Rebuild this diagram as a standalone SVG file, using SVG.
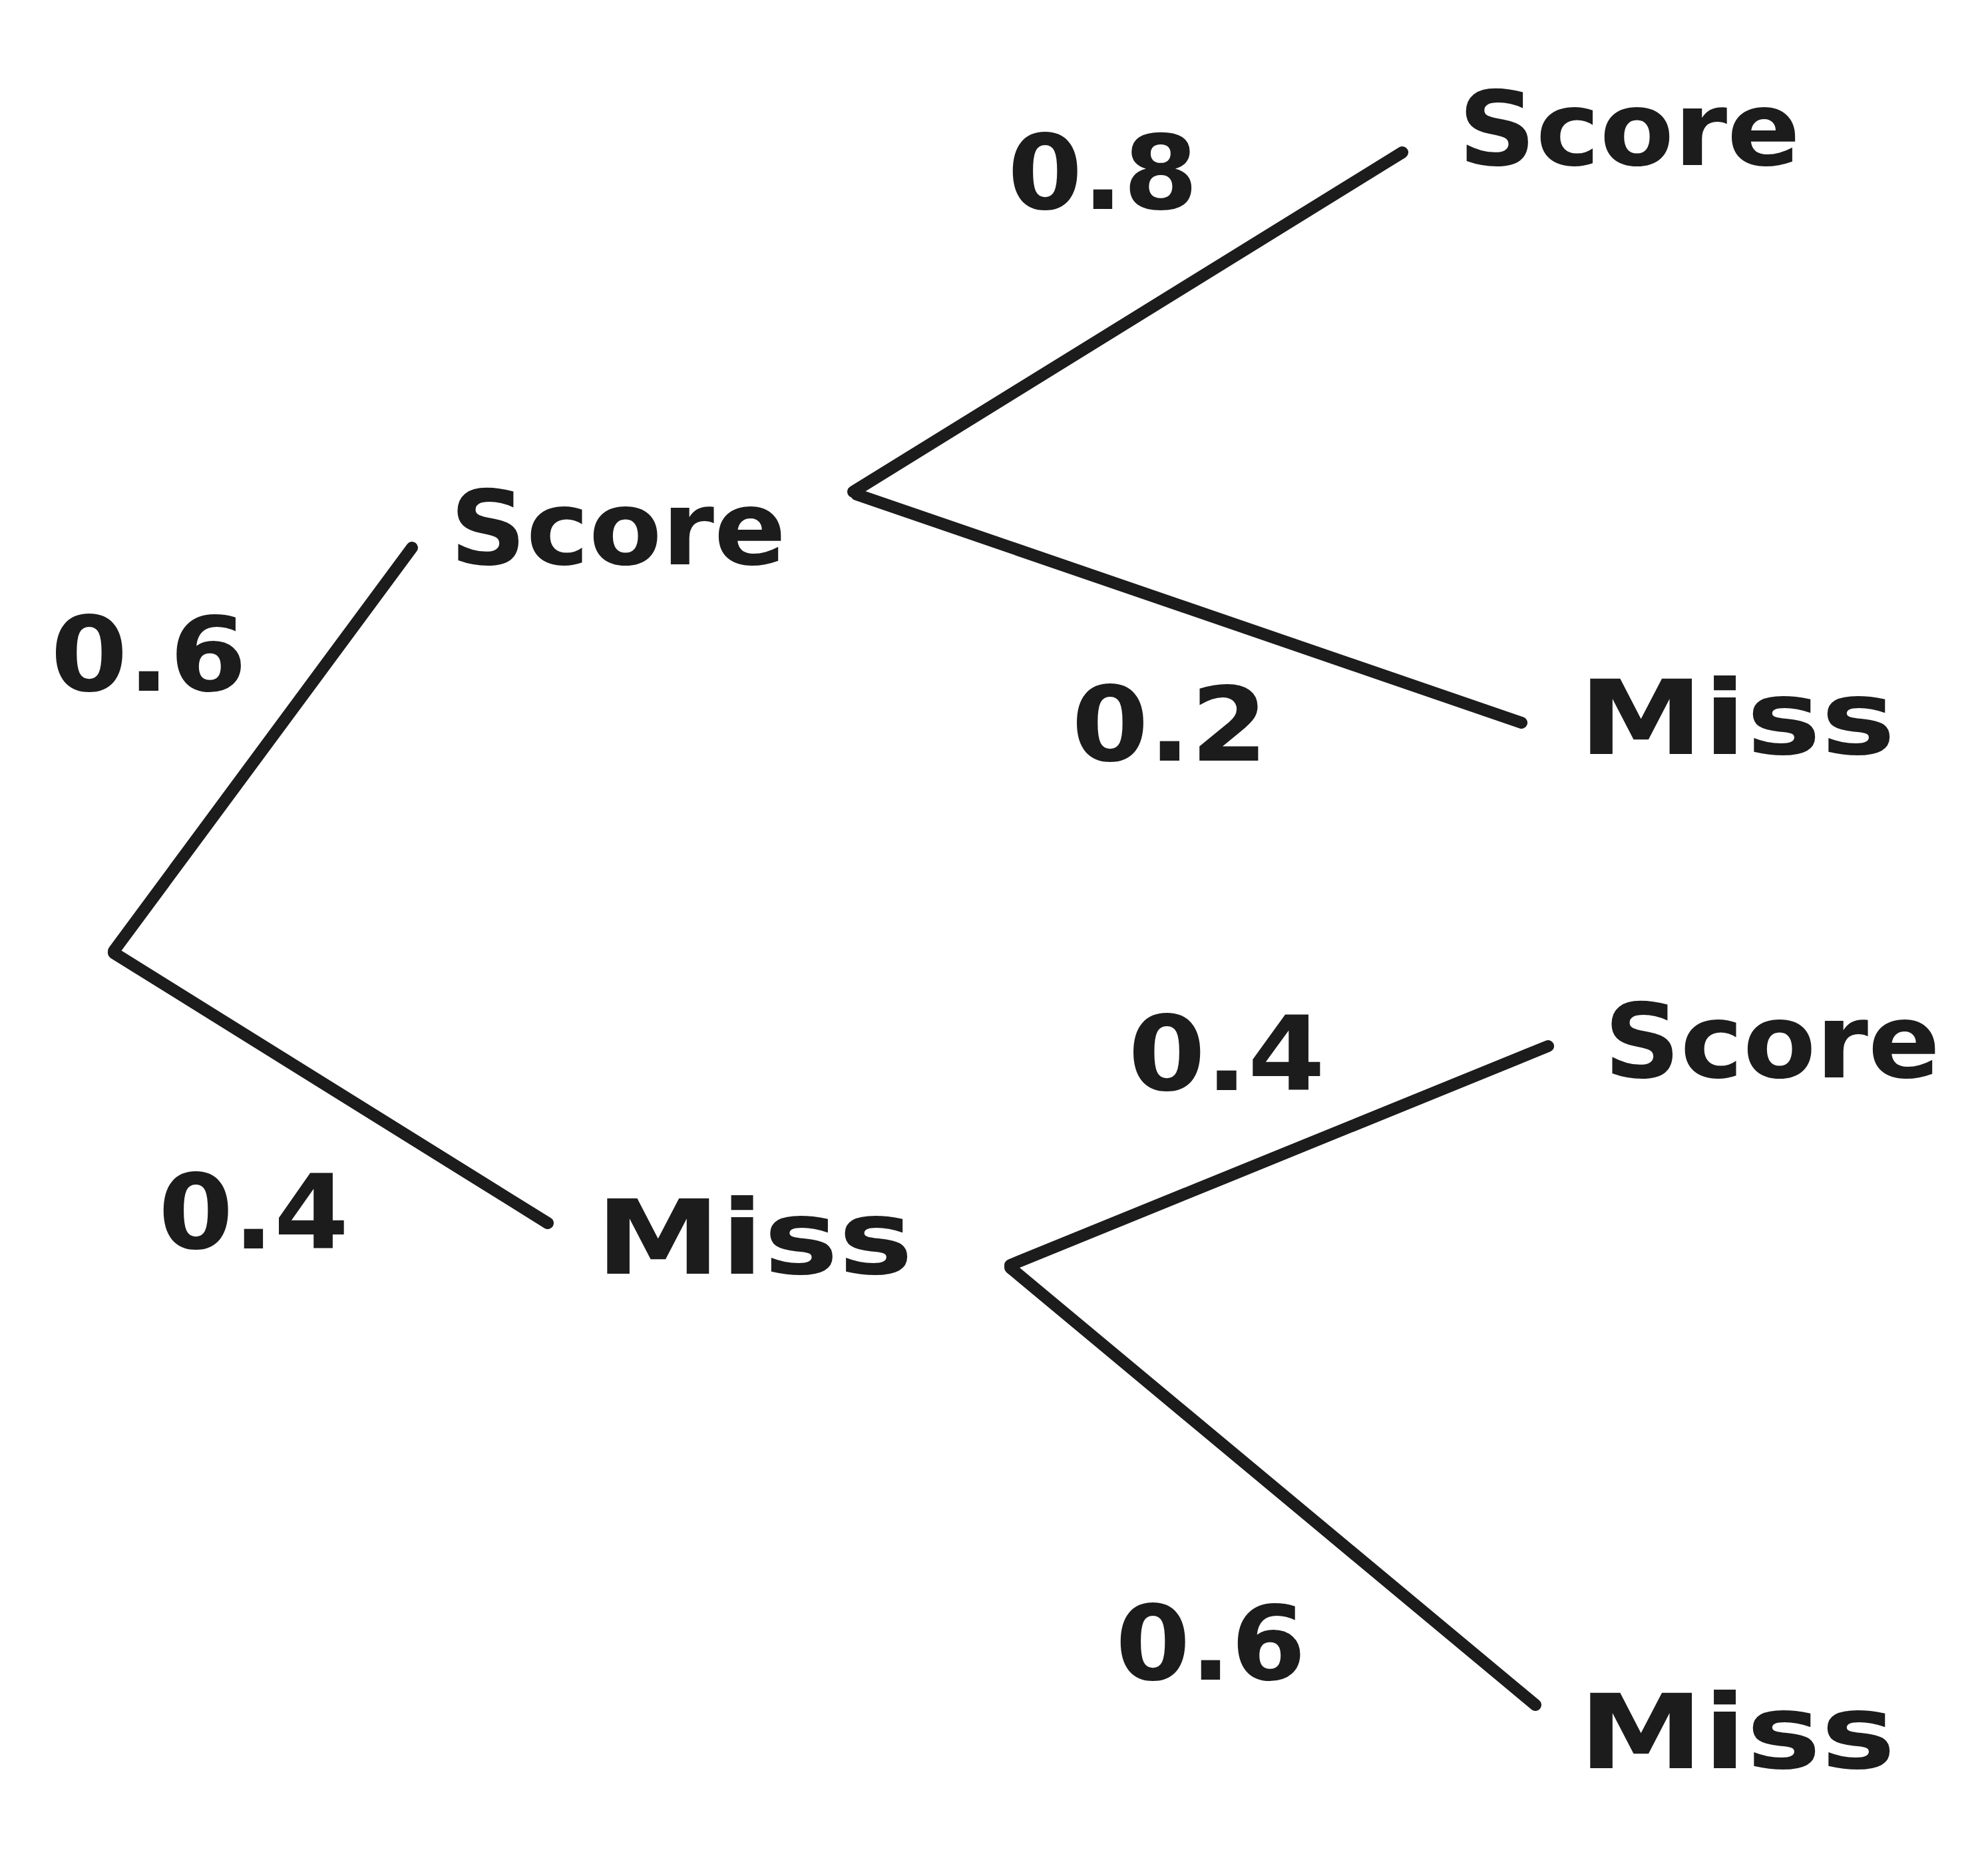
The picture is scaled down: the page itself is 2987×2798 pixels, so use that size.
<svg xmlns="http://www.w3.org/2000/svg" width="2987" height="2798" viewBox="0 0 2987 2798">
<style>
.e{stroke:#1c1c1c;stroke-width:18;stroke-linecap:round;fill:none}
text{font-family:"DejaVu Sans",sans-serif;font-weight:bold;font-size:155px;fill:#1c1c1c}
</style>
<rect width="2987" height="2798" fill="#fff"/>
<g id="connectors">
<line class="e" x1="171" y1="1429" x2="619" y2="823"/>
<line class="e" x1="171" y1="1432" x2="823" y2="1838"/>
<line class="e" x1="1282" y1="739" x2="2107" y2="229"/>
<line class="e" x1="1287" y1="743" x2="2286" y2="1086"/>
<line class="e" x1="1518" y1="1901" x2="2326" y2="1572"/>
<line class="e" x1="1518" y1="1905" x2="2307" y2="2562"/>
</g>
<g id="score1"><text x="676" y="848" textLength="505" lengthAdjust="spacingAndGlyphs">Score</text></g>
<g id="miss1"><text x="895" y="1914" textLength="477" lengthAdjust="spacingAndGlyphs">Miss</text></g>
<g id="score2"><text x="2191" y="248" textLength="514" lengthAdjust="spacingAndGlyphs">Score</text></g>
<g id="miss2"><text x="2372" y="1133" textLength="476" lengthAdjust="spacingAndGlyphs">Miss</text></g>
<g id="score3"><text x="2410" y="1619" textLength="505" lengthAdjust="spacingAndGlyphs">Score</text></g>
<g id="miss3"><text x="2372" y="2657" textLength="476" lengthAdjust="spacingAndGlyphs">Miss</text></g>
<g id="labels">
<text x="76" y="1038" textLength="295" lengthAdjust="spacingAndGlyphs">0.6</text>
<text x="238" y="1876" textLength="286" lengthAdjust="spacingAndGlyphs">0.4</text>
<text x="1514" y="314" textLength="286" lengthAdjust="spacingAndGlyphs">0.8</text>
<text x="1610" y="1143" textLength="295" lengthAdjust="spacingAndGlyphs">0.2</text>
<text x="1695" y="1638" textLength="296" lengthAdjust="spacingAndGlyphs">0.4</text>
<text x="1676" y="2524" textLength="286" lengthAdjust="spacingAndGlyphs">0.6</text>
</g>
</svg>
